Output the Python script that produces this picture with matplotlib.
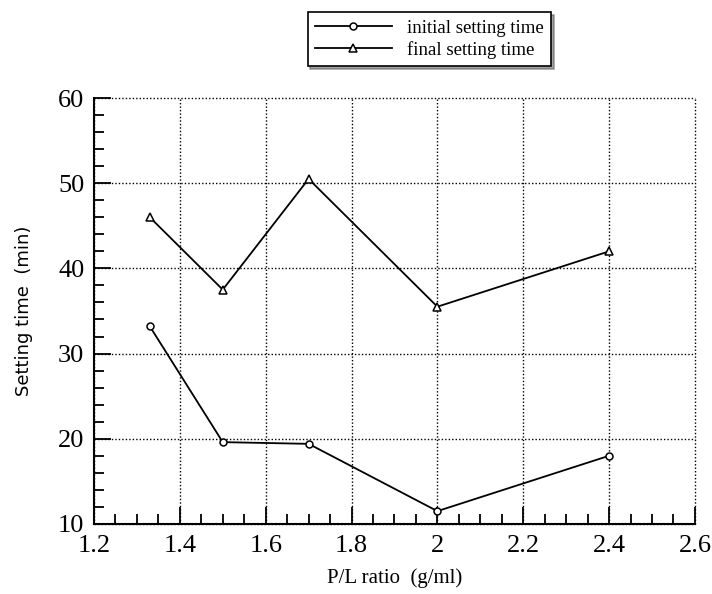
import matplotlib
matplotlib.use("Agg")
import matplotlib.pyplot as plt
from matplotlib.ticker import MultipleLocator

# P/L ratio values and setting times
pl_ratio = [1.33, 1.5, 1.7, 2.0, 2.4]
initial_time = [33.2, 19.6, 19.4, 11.5, 18.0]
final_time = [46.0, 37.5, 50.5, 35.5, 42.0]

plt.rcParams['font.family'] = ['Liberation Serif', 'DejaVu Serif']

fig = plt.figure(figsize=(7.12, 5.94), dpi=100)
ax = fig.add_axes([0.132, 0.118, 0.844, 0.717])

ax.plot(pl_ratio, initial_time, color='black', lw=1.3, marker='o', ms=5,
        mfc='white', mec='black', mew=1.1, label='initial setting time')
ax.plot(pl_ratio, final_time, color='black', lw=1.3, marker='^', ms=5.5,
        mfc='white', mec='black', mew=1.1, label='final setting time')

ax.set_xlim(1.2, 2.6)
ax.set_ylim(10, 60)
ax.xaxis.set_minor_locator(MultipleLocator(0.05))
ax.yaxis.set_major_locator(MultipleLocator(10))
ax.yaxis.set_minor_locator(MultipleLocator(2))
ax.set_xticks([1.2, 1.4, 1.6, 1.8, 2.0, 2.2, 2.4, 2.6])
ax.set_xticklabels(['1.2', '1.4', '1.6', '1.8', '2', '2.2', '2.4', '2.6'])

ax.tick_params(which='both', direction='in', top=False, right=False, width=1.3)
ax.tick_params(which='major', length=12, labelsize=19)
ax.tick_params(axis='x', which='major', pad=8)
ax.tick_params(axis='y', which='major', pad=7)
ax.tick_params(which='minor', length=7)
ax.spines['top'].set_visible(False)
ax.spines['right'].set_visible(False)
ax.spines['left'].set_linewidth(1.5)
ax.spines['bottom'].set_linewidth(1.5)

ax.grid(True, which='major', ls=(0, (1, 1.5)), color='black', lw=1.0)
for gl in ax.get_xgridlines() + ax.get_ygridlines():
    gl.set_clip_on(False)

ax.set_xlabel('P/L ratio  (g/ml)', fontsize=15, labelpad=8)
ax.set_ylabel('Setting time  (min)', fontsize=13, labelpad=18,
              family=['DejaVu Sans'])

leg = fig.legend(loc='center', bbox_to_anchor=(0.603, 0.934), fontsize=13.5,
                 frameon=True, fancybox=False, shadow=True, edgecolor='black',
                 handlelength=4.1, borderpad=0.4, labelspacing=0.2)
leg.get_frame().set_linewidth(1.2)

fig.savefig('out.png', dpi=100)
